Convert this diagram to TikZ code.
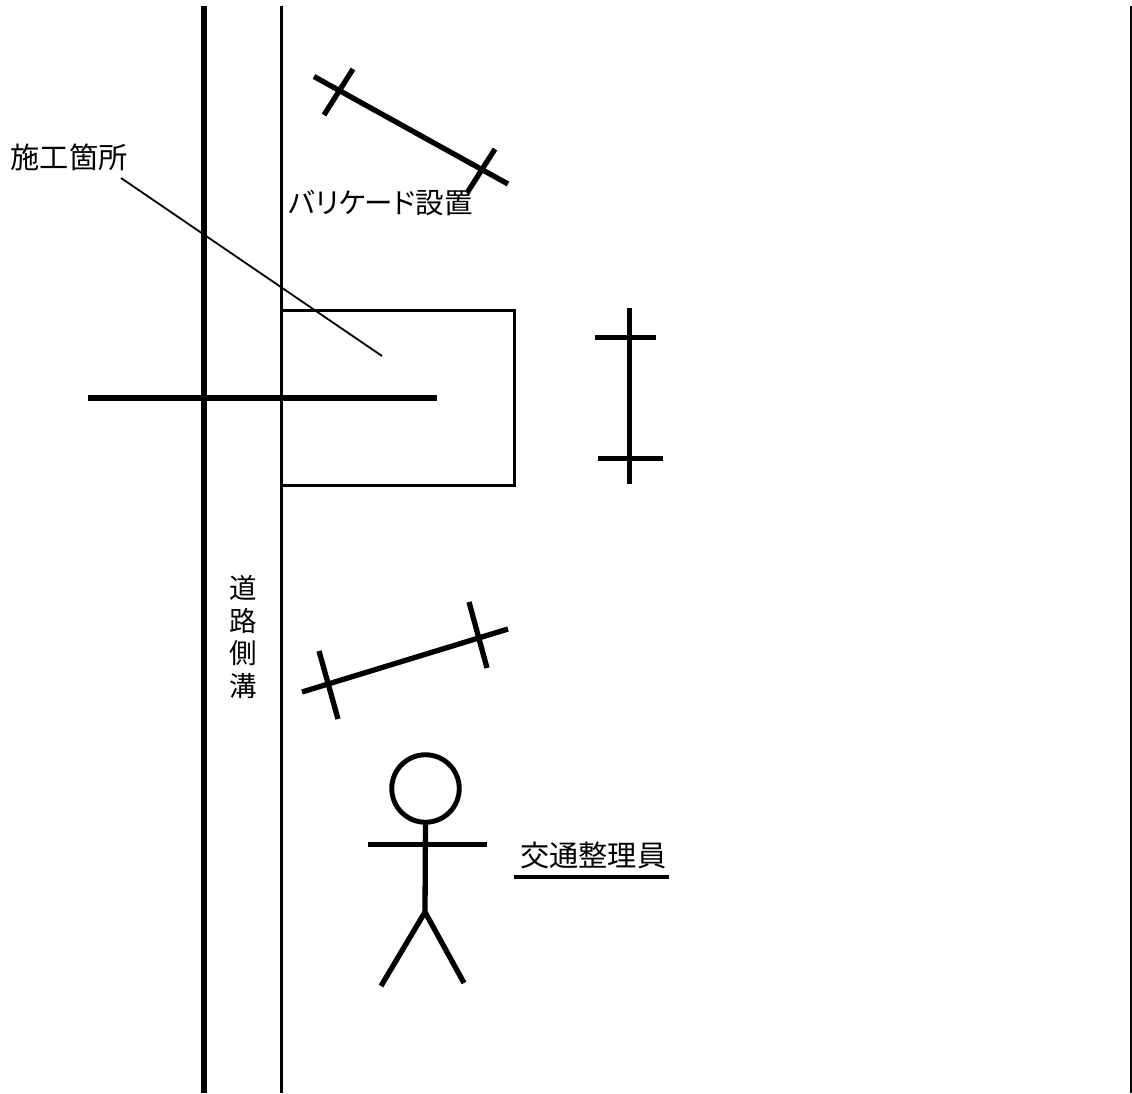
\documentclass[tikz,border=0pt]{standalone}
\usepackage{fontspec}
\newfontfamily\cjk{Noto Sans CJK JP}
\newfontfamily\cjkp[RawFeature=+palt]{Noto Sans CJK JP}
\begin{document}
\begin{tikzpicture}[x=1pt,y=-1pt,
 bar/.style={line width=5.3pt},
 lbl/.style={font=\cjk\fontsize{29.2}{32}\selectfont,inner sep=0pt,text=black},
 vlbl/.style={font=\cjk\fontsize{27.5}{32}\selectfont,inner sep=0pt,text=black}]
\useasboundingbox[fill=white] (0,0) rectangle (1132,1093);
\draw[line width=5.4pt] (204,6) -- (204,1093);
\draw[line width=3pt] (281.5,6) -- (281.5,1093);
\draw[line width=2pt] (1131,6) -- (1131,1093);
% worksite
\draw[line width=3pt] (281.5,310.5) -- (514.5,310.5) -- (514.5,485) -- (281.5,485);
\draw[line width=6.6pt] (88,398) -- (437,398);
\draw[line width=1.8pt] (121,178) -- (382,356);
% barricades
\draw[bar] (314,76.5) -- (508,184);
\draw[bar] (353,69) -- (324,115);
\draw[bar] (495,149) -- (467,193);
\draw[bar] (629.3,308) -- (629.3,484);
\draw[bar] (595,337.7) -- (656,337.7);
\draw[bar] (598,458.3) -- (663,458.3);
\draw[bar] (302,692) -- (508,629);
\draw[bar] (319,651) -- (338,719);
\draw[bar] (469,602) -- (487,668);
% person
\node[draw,circle,line width=4.9pt,minimum size=67.5pt,inner sep=0pt,outer sep=0pt] (head) at (425.5,788.5) {};
\coordinate (hip) at (425,912);
\draw[bar] (head.south) -- (hip);
\draw[bar] (368,844.5) -- (487,844.5);
\draw[bar] (hip) -- (381,986);
\draw[bar] (hip) -- (464,983);
\draw[line width=3.8pt] (514,877) -- (669,877);
% labels
\node[lbl,anchor=west] (a) at (10.5,157) {施工箇所};
\node[lbl,anchor=west,font=\cjkp\fontsize{28.5}{32}\selectfont] (b) at (288,203) {バリケード設置};
\node[lbl,anchor=west] (c) at (520,855) {交通整理員};
\node[vlbl] (d1) at (243.5,588) {道};
\node[vlbl] (d2) at (243.5,620.5) {路};
\node[vlbl] (d3) at (243.5,653) {側};
\node[vlbl] (d4) at (243.5,686) {溝};
\end{tikzpicture}
\end{document}
